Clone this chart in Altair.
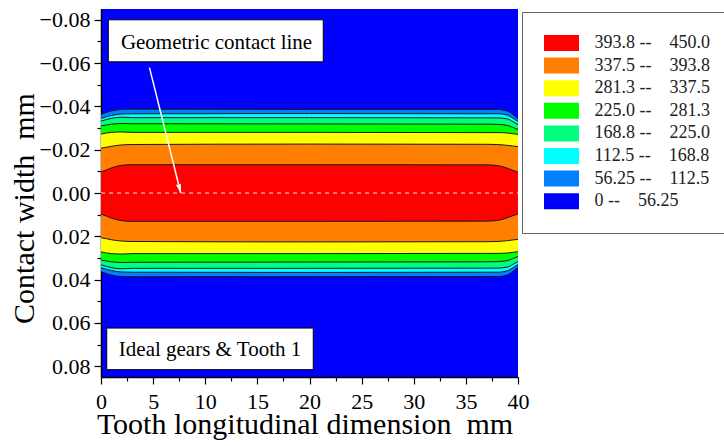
import altair as alt
import pandas as pd

# ---- data ----
x_mm = [0, 0.5, 1, 2, 3, 20, 37, 38, 39, 39.5, 40]
levels = [56.25, 112.5, 168.8, 225.0, 281.3, 337.5, 393.8]
# half width (mm) of each iso-pressure contour along the tooth length
hw_56 = [0.0363, 0.0372, 0.0379, 0.0386, 0.0387, 0.0386, 0.0386, 0.0386, 0.0378, 0.0362, 0.0342]
hw_112 = [0.0345, 0.0352, 0.0358, 0.0365, 0.0366, 0.0367, 0.0366, 0.0366, 0.0359, 0.0346, 0.0331]
hw_169 = [0.0332, 0.0339, 0.0345, 0.0350, 0.0348, 0.0348, 0.0347, 0.0347, 0.0342, 0.0330, 0.0316]
hw_225 = [0.0310, 0.0314, 0.0318, 0.0321, 0.0320, 0.0319, 0.0318, 0.0317, 0.0312, 0.0303, 0.0294]
hw_281 = [0.0272, 0.0277, 0.0280, 0.0282, 0.0280, 0.0280, 0.0279, 0.0279, 0.0277, 0.0274, 0.0271]
hw_338 = [0.0207, 0.0211, 0.0216, 0.0222, 0.0224, 0.0226, 0.0225, 0.0224, 0.0220, 0.0217, 0.0214]
hw_394 = [0.0098, 0.0106, 0.0116, 0.0128, 0.0131, 0.0131, 0.0130, 0.0127, 0.0114, 0.0105, 0.0097]
half_widths = [hw_56, hw_112, hw_169, hw_225, hw_281, hw_338, hw_394]

NB = "\u00a0"
band_lo = ["393.8", "337.5", "281.3", "225.0", "168.8", "112.5", "56.25", "0"]
band_hi = ["450.0", "393.8", "337.5", "281.3", "225.0", "168.8", "112.5", "56.25"]
band_labels = [f"{a} --{NB * 3} {b}" for a, b in zip(band_lo, band_hi)]
band_colors = ["#FF0000", "#FF8000", "#FFFF00", "#00FF00", "#00FF80", "#00FFFF", "#0080FF", "#0000FF"]

x_major = [0, 5, 10, 15, 20, 25, 30, 35, 40]
x_minor = [2.5, 7.5, 12.5, 17.5, 22.5, 27.5, 32.5, 37.5]
y_major = [-0.08, -0.06, -0.04, -0.02, 0.0, 0.02, 0.04, 0.06, 0.08]
y_minor = [-0.07, -0.05, -0.03, -0.01, 0.01, 0.03, 0.05, 0.07]

box_text = ["Geometric contact line", "Ideal gears & Tooth 1"]
box_x1 = [0.70, 0.55]
box_x2 = [21.32, 20.36]
box_y1 = [-0.0800, 0.0624]
box_y2 = [-0.0606, 0.0816]
text_x = [11.08, 10.46]
text_y = [-0.0667, 0.0751]

arrow_x = [4.65, 7.65]
arrow_y = [-0.0579, 0.0]

FONT = "Liberation Serif"

# ---- tables ----
area_rows = []
line_rows = []
for i, (lev, hw) in enumerate(zip(levels, half_widths)):
    band = band_labels[6 - i]
    for xv, h in zip(x_mm, hw):
        area_rows.append({"lev": i, "x": xv, "lo": -h, "hi": h, "band": band})
        line_rows.append({"key": f"{i}t", "x": xv, "y": -h})
        line_rows.append({"key": f"{i}b", "x": xv, "y": h})
area_df = pd.DataFrame(area_rows)
line_df = pd.DataFrame(line_rows)
box_df = pd.DataFrame({"t": box_text, "x1": box_x1, "x2": box_x2, "y1": box_y1, "y2": box_y2,
                       "tx": text_x, "ty": text_y})
arrow_df = pd.DataFrame({"x": arrow_x, "y": arrow_y})
zero_df = pd.DataFrame({"x0": [0], "x1": [40], "y": [0.0]})

xs = alt.Scale(domain=[0, 40], nice=False, zero=False)
ys = alt.Scale(domain=[-0.085, 0.085], nice=False, zero=False, reverse=True)

x_axis_major = alt.Axis(orient="bottom", values=x_major, format="d", grid=False, tickSize=7,
                        tickColor="black", tickWidth=1.2, domainColor="black", domainWidth=1.5,
                        labelFont=FONT, labelFontSize=22, labelColor="black", labelPadding=7,
                        labelFlush=False, labelOverlap=False, labelBound=False,
                        title=f"Tooth longitudinal dimension{NB} mm", titleFont=FONT, titleFontSize=30,
                        titleFontWeight="normal", titleColor="black", titleX=203.5, titleY=56,
                        titleAlign="center", titleBaseline="alphabetic")
y_axis_major = alt.Axis(orient="left", values=y_major, format=".2f", grid=False, tickSize=7,
                        tickColor="black", tickWidth=1.2, domainColor="black", domainWidth=1.5,
                        labelFont=FONT, labelFontSize=22, labelColor="black", labelPadding=4,
                        labelFlush=False, labelOverlap=False, labelBound=False,
                        title=f"Contact width{NB} mm", titleFont=FONT, titleFontSize=30,
                        titleFontWeight="normal", titleColor="black", titleX=-68, titleY=199,
                        titleAngle=270, titleAlign="center", titleBaseline="alphabetic")
x_axis_minor = alt.Axis(orient="bottom", values=x_minor, grid=False, labels=False, domain=False,
                        tickSize=4, tickColor="black", tickWidth=1.2, title=None)
y_axis_minor = alt.Axis(orient="left", values=y_minor, grid=False, labels=False, domain=False,
                        tickSize=4, tickColor="black", tickWidth=1.2, title=None)

color_enc = alt.Color(
    "band:N",
    scale=alt.Scale(domain=band_labels, range=band_colors),
    legend=alt.Legend(title=None, orient="none", legendX=421, legendY=3, padding=22,
                      strokeColor="#666666", fillColor="white",
                      symbolType="M-1.944,-0.889H1.944V0.889H-1.944Z", symbolSize=324,
                      symbolOffset=8.5, symbolStrokeWidth=0, symbolOpacity=1,
                      labelFont=FONT, labelFontSize=18, labelColor="#222222",
                      labelOffset=24, rowPadding=4.6, labelLimit=400),
)

layers = []
for i in range(len(levels)):
    first = i == 0
    layers.append(
        alt.Chart(area_df[area_df["lev"] == i]).mark_area(opacity=1, interpolate="monotone").encode(
            x=alt.X("x:Q", scale=xs, axis=x_axis_major if first else None),
            y=alt.Y("lo:Q", scale=ys, axis=y_axis_major if first else None, stack=None),
            y2="hi:Q",
            color=color_enc,
        )
    )

lines = alt.Chart(line_df).mark_line(color="#1a1a1a", strokeWidth=1, interpolate="monotone").encode(
    x=alt.X("x:Q", scale=xs, axis=None),
    y=alt.Y("y:Q", scale=ys, axis=None),
    detail="key:N",
)

zero_line = alt.Chart(zero_df).mark_rule(color="white", strokeWidth=1, strokeDash=[4, 4], opacity=0.9).encode(
    x=alt.X("x0:Q", scale=xs, axis=x_axis_minor),
    x2="x1:Q",
    y=alt.Y("y:Q", scale=ys, axis=y_axis_minor),
)

arrow_line = alt.Chart(arrow_df).mark_line(color="white", strokeWidth=1.5).encode(
    x=alt.X("x:Q", scale=xs, axis=None),
    y=alt.Y("y:Q", scale=ys, axis=None),
)
arrow_head = alt.Chart(arrow_df.iloc[[1]]).mark_point(
    shape="M0,0L-0.45,1.6L0.45,1.6Z", size=127, angle=165.8, filled=True, fill="white", opacity=1,
    strokeWidth=0,
).encode(
    x=alt.X("x:Q", scale=xs, axis=None),
    y=alt.Y("y:Q", scale=ys, axis=None),
)

boxes = alt.Chart(box_df).mark_rect(fill="white", stroke="black", strokeWidth=1).encode(
    x=alt.X("x1:Q", scale=xs, axis=None),
    x2="x2:Q",
    y=alt.Y("y1:Q", scale=ys, axis=None),
    y2="y2:Q",
)
texts = alt.Chart(box_df).mark_text(font=FONT, fontSize=21, color="black", align="center",
                                    baseline="alphabetic").encode(
    x=alt.X("tx:Q", scale=xs, axis=None),
    y=alt.Y("ty:Q", scale=ys, axis=None),
    text="t:N",
)

chart = alt.layer(*layers, lines, zero_line, arrow_line, arrow_head, boxes, texts).resolve_axis(
    x="independent", y="independent"
).properties(
    width=417, height=368,
    autosize=alt.AutoSizeParams(type="none"),
    padding={"left": 101, "top": 9, "right": 206, "bottom": 69},
    background="white",
).configure_view(fill="#0000FF", stroke=None)

chart.save("out.html", embed_options={"renderer": "svg", "actions": False})
